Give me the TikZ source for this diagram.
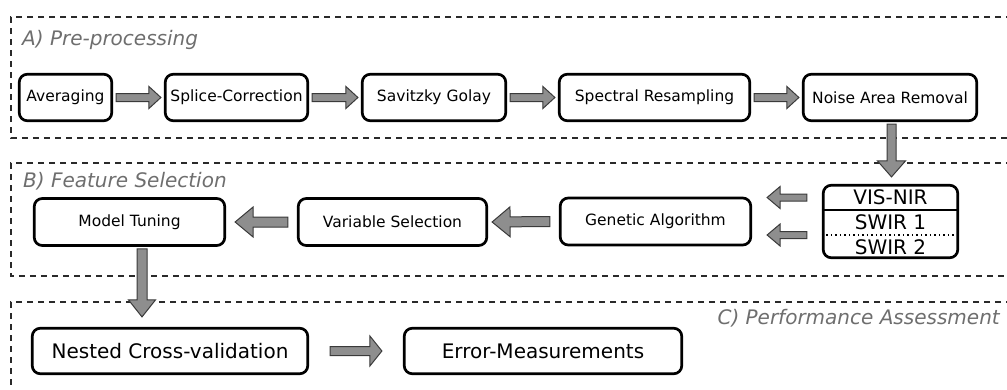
\documentclass[tikz,border=0pt]{standalone}
\usepackage{fontspec}
\setmainfont{DejaVu Sans}
\usetikzlibrary{calc}
\definecolor{arrfill}{HTML}{8E8E8E}
\definecolor{arrline}{HTML}{3A3A3A}
\definecolor{labgray}{HTML}{6E6E6E}
\definecolor{dashgray}{HTML}{2A2A2A}
\tikzset{
  box/.style={draw=black, line width=2.7pt, rounded corners=8pt, fill=white, inner sep=0pt},
  smalltxt/.style={font=\fontsize{15.5}{18}\selectfont},
  bigtxt/.style={font=\fontsize{20}{23}\selectfont},
  seclabel/.style={font=\fontsize{20}{23}\selectfont\itshape, text=labgray, inner sep=0pt},
  frame/.style={draw=dashgray, line width=2.4pt, dash pattern=on 6pt off 5pt},
  fat/.style n args={3}{draw=arrline, fill=arrfill, line width=1pt, line join=miter,
    to path={let \p{m}=($(\tikztotarget)!#3pt!(\tikztostart)$) in
      ($(\tikztostart)!#1pt!90:(\tikztotarget)$) --
      ($(\p{m})!#1pt!-90:(\tikztostart)$) --
      ($(\p{m})!#2pt!-90:(\tikztostart)$) --
      (\tikztotarget) --
      ($(\p{m})!#2pt!90:(\tikztostart)$) --
      ($(\p{m})!#1pt!90:(\tikztostart)$) --
      ($(\tikztostart)!#1pt!-90:(\tikztotarget)$) -- cycle}},
}
\begin{document}
\begin{tikzpicture}[x=1pt,y=-1pt]
\useasboundingbox (0,0) rectangle (1007,389);

% dashed section frames
\draw[frame] (1012,17) -- (11,17) -- (11,138) -- (1012,138);
\draw[frame] (1012,163) -- (11,163) -- (11,276) -- (1012,276);
\draw[frame] (1012,302) -- (11,302) -- (11,395);

% section labels
\node[seclabel, anchor=west] (labA) at (22,40) {A) Pre-processing};
\node[seclabel, anchor=west] (labB) at (23,181) {B) Feature Selection};
\node[seclabel, anchor=east] (labC) at (1000,318) {C) Performance Assessment};

% row A
\node[box, smalltxt, minimum width=92.5pt, minimum height=46.5pt] (avg) at (65.5,97.5) {Averaging};
\node[box, smalltxt, minimum width=142.5pt, minimum height=46.5pt] (spl) at (236.5,97.5) {Splice-Correction};
\node[box, smalltxt, minimum width=143.5pt, minimum height=46.5pt] (sav) at (434,97.5) {Savitzky Golay};
\node[box, smalltxt, minimum width=190.5pt, minimum height=46.5pt] (res) at (654.5,97.5) {Spectral Resampling};
\node[box, smalltxt, minimum width=173.5pt, minimum height=46.5pt] (noise) at (890,97.5) {Noise Area Removal};

% row B
\node[box, smalltxt, minimum width=190.5pt, minimum height=47pt] (mt) at (129.5,222) {Model Tuning};
\node[box, smalltxt, minimum width=188.5pt, minimum height=47pt] (vs) at (392.5,222) {Variable Selection};
\node[box, smalltxt, minimum width=190.5pt, minimum height=47pt] (ga) at (655.5,221.5) {Genetic Algorithm};
\node[box, minimum width=134.5pt, minimum height=72.5pt] (bands) at (890.5,221.5) {};
\node[bigtxt, inner sep=0pt] (vis) at (890.5,197.5) {VIS-NIR};
\node[bigtxt, inner sep=0pt] (sw1) at (890.5,222.5) {SWIR 1};
\node[bigtxt, inner sep=0pt] (sw2) at (890.5,247.5) {SWIR 2};
\coordinate (sepA) at (890.5,210);
\coordinate (sepB) at (890.5,235);
\draw[line width=2pt] (bands.west |- sepA) -- (bands.east |- sepA);
\draw[line width=1.3pt, dash pattern=on 1.3pt off 3.2pt] (bands.west |- sepB) -- (bands.east |- sepB);

% row C
\node[box, bigtxt, minimum width=275.5pt, minimum height=45.5pt] (ncv) at (170,351) {Nested Cross-validation};
\node[box, bigtxt, minimum width=277.5pt, minimum height=45.5pt] (err) at (543,351) {Error-Measurements};

% arrows row A
\draw[fat={4}{11}{12}] ($(avg.east)+(3,0)$) to ($(spl.west)+(-3,0)$);
\draw[fat={4}{11}{12}] ($(spl.east)+(3,0)$) to ($(sav.west)+(-3,0)$);
\draw[fat={4}{11}{12}] ($(sav.east)+(3,0)$) to ($(res.west)+(-3,0)$);
\draw[fat={4}{11}{12}] ($(res.east)+(3,0)$) to ($(noise.west)+(-3,0)$);
% down to bands
\draw[fat={4.5}{14}{16}] ($(noise.south)+(1.5,2)$) to ($(noise.south |- bands.north)+(1.5,-7)$);
% bands to GA
\draw[fat={3.5}{11}{13}] ($(bands.west |- vis)+(-15,0)$) to ($(ga.east |- vis)+(15,0)$);
\draw[fat={3.5}{11}{13}] ($(bands.west |- sepB)+(-15,0)$) to ($(ga.east |- sepB)+(15,0)$);
% row B leftward
\draw[fat={5}{15}{18}] ($(ga.west)+(-9,0)$) to ($(vs.east)+(4,0)$);
\draw[fat={5}{15}{18}] ($(vs.west)+(-9,0)$) to ($(mt.east)+(9,0)$);
% down to row C
\coordinate (mtout) at ($(mt.south)+(12.5,2)$);
\draw[fat={5}{13.5}{17}] (mtout) to ($(mtout |- ncv.north)+(0,-10)$);
% row C
\draw[fat={4.5}{15}{12}] ($(ncv.east)+(21,0)$) to ($(err.west)+(-21,0)$);
\end{tikzpicture}
\end{document}
